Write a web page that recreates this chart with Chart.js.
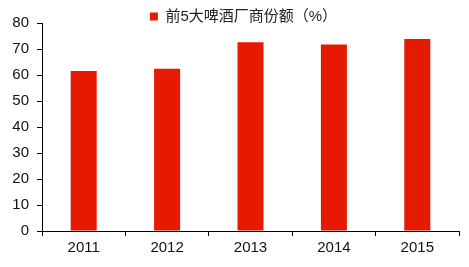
<!DOCTYPE html>
<html><head><meta charset="utf-8">
<script src="https://cdn.jsdelivr.net/npm/chart.js@4"></script>
<style>html,body{margin:0;padding:0;background:#fff}#w{width:469px;height:267px;position:relative}</style>
</head><body><div id="w"><canvas id="c"></canvas></div>
<script>
const categories = ['2011','2012','2013','2014','2015'];
const seriesName = '前5大啤酒厂商份额（%）';
const shareValues = [61.5, 62.4, 72.6, 71.7, 73.8];
const yTicks = [0,10,20,30,40,50,60,70,80];

const FONT = "'Liberation Sans', Arial, 'Noto Sans CJK SC', sans-serif";
const RED = '#E61A00';

const legendTweak = {
  id: 'legendTweak',
  afterInit(chart) {
    const lg = chart.legend;
    const orig = lg.fit;
    lg.fit = function () { orig.call(this); this.height = 23; };
  },
  afterLayout(chart) {
    const lg = chart.legend;
    lg.left += 14; lg.right += 14;
  }
};

new Chart(document.getElementById('c'), {
  type: 'bar',
  data: { labels: categories, datasets: [{ label: seriesName, data: shareValues, backgroundColor: RED, borderWidth: 0, barPercentage: 0.312, categoryPercentage: 1 }] },
  plugins: [legendTweak],
  options: {
    responsive: true, maintainAspectRatio: false, animation: false,
    layout: { padding: { top: 0, right: 10, left: 0, bottom: 0 } },
    plugins: {
      tooltip: { enabled: false },
      legend: { position: 'top', labels: { boxWidth: 8, boxHeight: 8, color: '#222', font: { family: FONT, size: 15 }, padding: 9 } }
    },
    scales: {
      x: {
        grid: { display: true, drawOnChartArea: false, drawTicks: true, tickLength: 5, color: '#000', offset: true },
        border: { display: true, color: '#000', width: 1 },
        ticks: { color: '#111', font: { family: FONT, size: 15 }, padding: 3, maxRotation: 0 },
        afterFit: s => { s.height = 36; }
      },
      y: {
        min: 0, max: 80,
        afterBuildTicks: s => { s.ticks = yTicks.map(v => ({ value: v })); },
        grid: { display: true, drawOnChartArea: false, drawTicks: true, tickLength: 5, color: '#000' },
        border: { display: true, color: '#000', width: 1 },
        ticks: { color: '#111', font: { family: FONT, size: 15 }, padding: 8 },
        afterFit: s => { s.width = 42; }
      }
    }
  }
});
</script></body></html>
